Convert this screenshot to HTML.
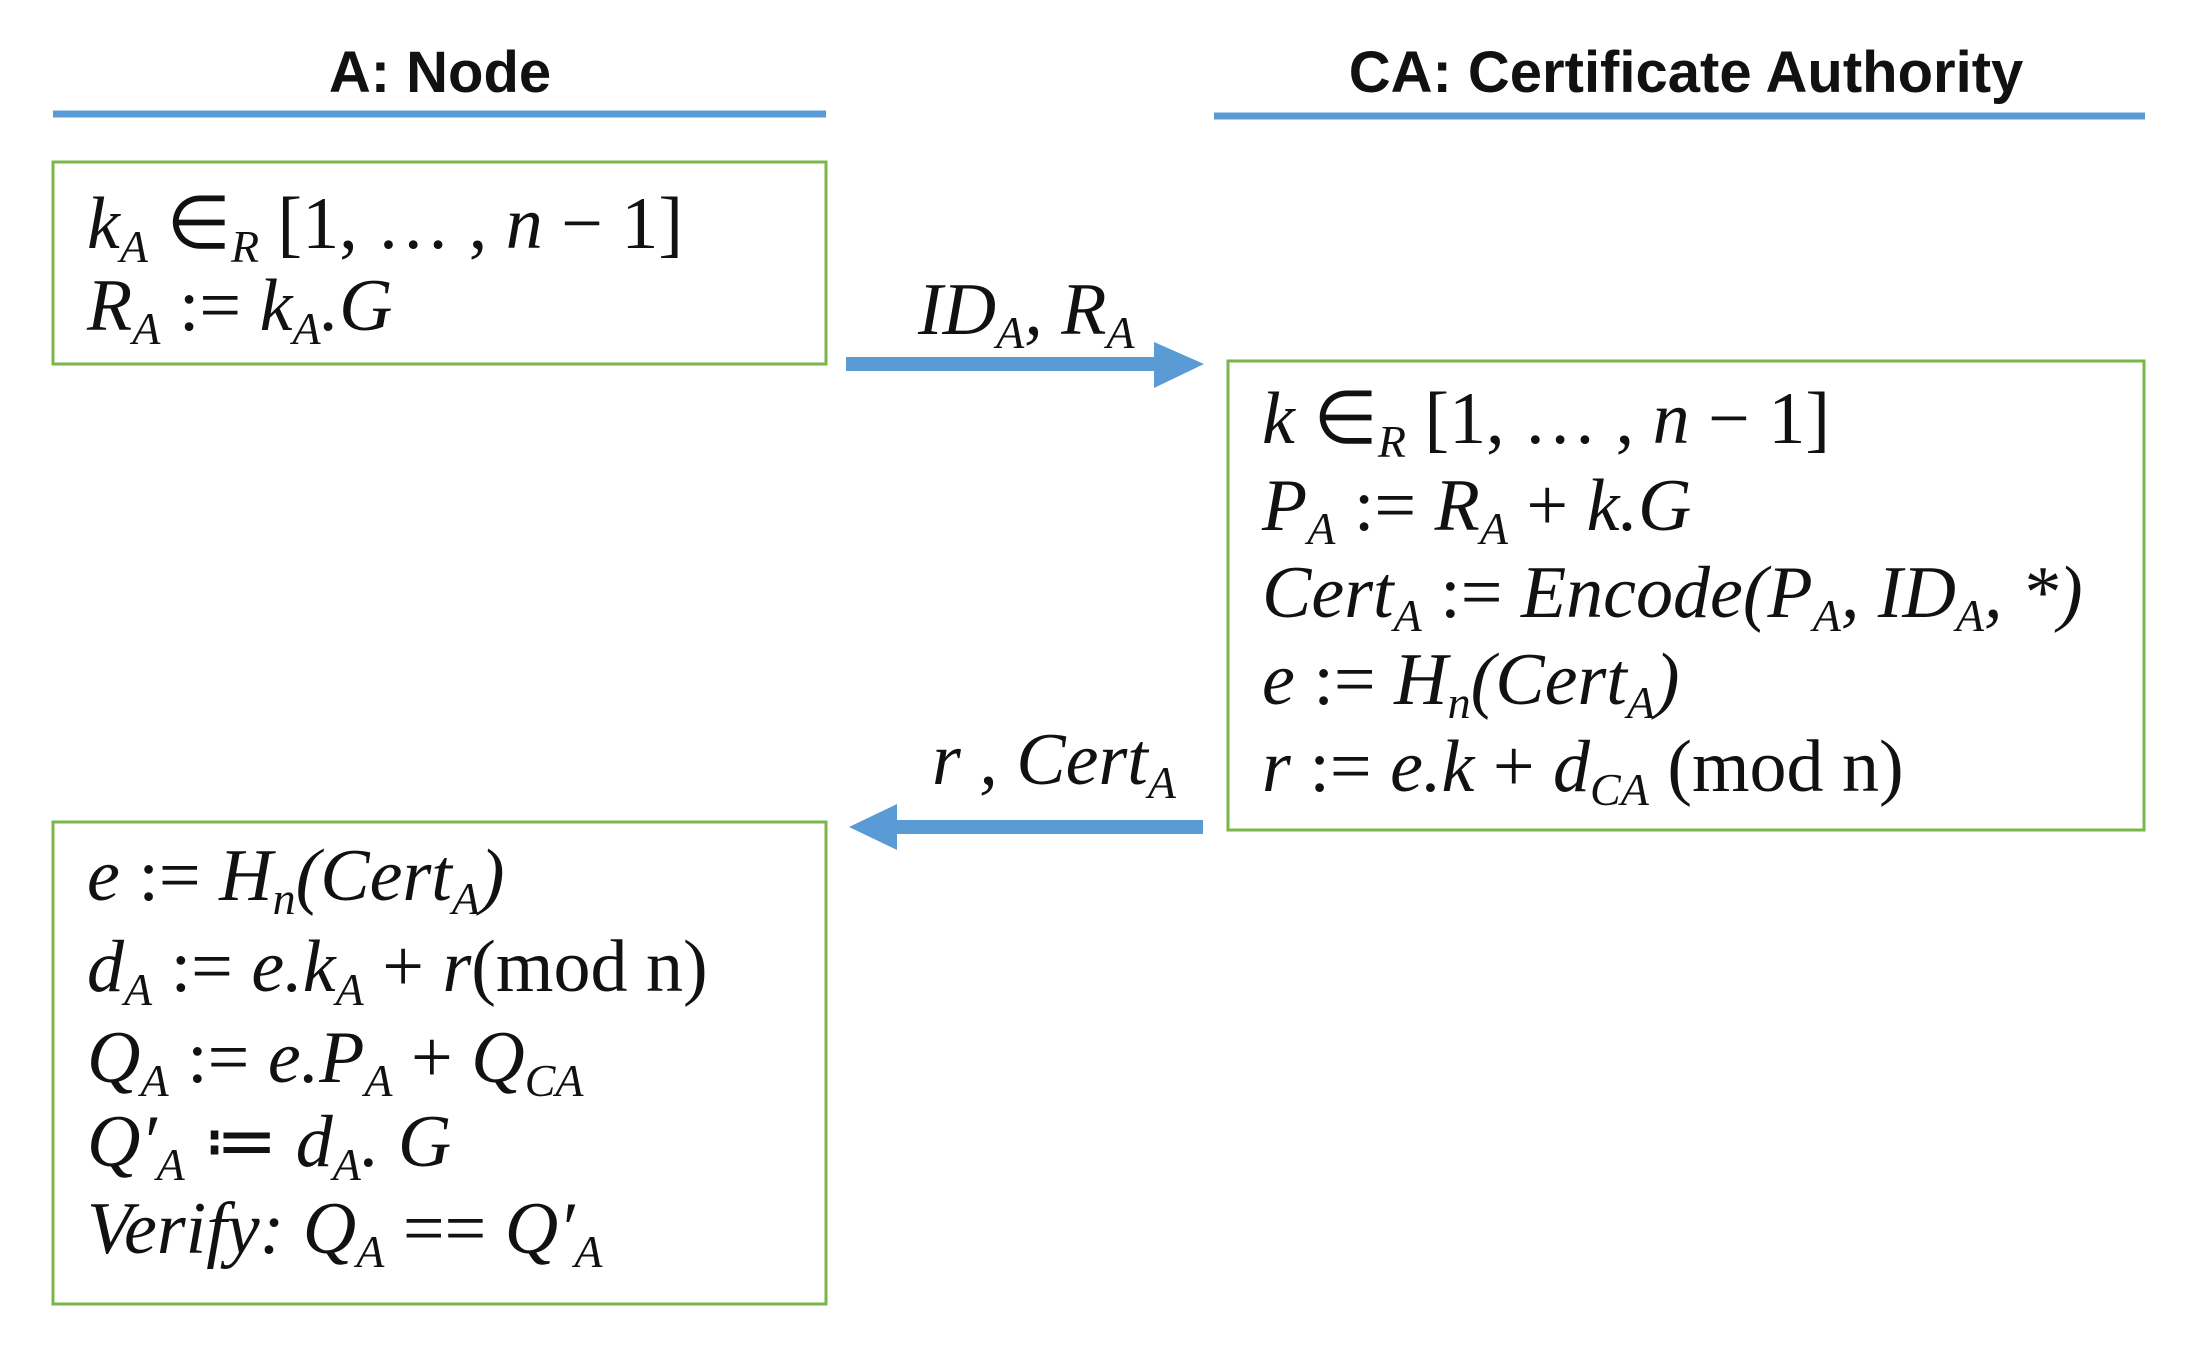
<!DOCTYPE html>
<html><head><meta charset="utf-8"><style>
html,body{margin:0;padding:0;background:#fff;}
svg{display:block;}
.t{font-family:"Liberation Serif",serif;font-style:italic;font-size:74px;fill:#111;}
.s{font-size:46px;}
.n{font-style:normal;}
.h{font-family:"Liberation Sans",sans-serif;font-weight:bold;font-size:58px;fill:#111;}
</style></head><body>
<svg width="2194" height="1350" viewBox="0 0 2194 1350" xmlns="http://www.w3.org/2000/svg">
<rect width="2194" height="1350" fill="#fff"/>
<text class="h" x="440" y="92" text-anchor="middle">A: Node</text>
<text class="h" x="1686" y="92" text-anchor="middle">CA: Certificate Authority</text>
<line x1="53" y1="114" x2="826" y2="114" stroke="#5b9bd5" stroke-width="7"/>
<line x1="1214" y1="116" x2="2145" y2="116" stroke="#5b9bd5" stroke-width="7"/>

<rect x="53" y="162" width="773" height="202" fill="none" stroke="#7ab648" stroke-width="3"/>
<rect x="1228" y="361" width="916" height="469" fill="none" stroke="#7ab648" stroke-width="3"/>
<rect x="53" y="822" width="773" height="482" fill="none" stroke="#7ab648" stroke-width="3"/>

<!-- arrows -->
<rect x="846" y="357" width="312" height="14" fill="#5b9bd5"/>
<polygon points="1154,342 1204,364 1154,388" fill="#5b9bd5"/>
<rect x="895" y="820" width="308" height="14" fill="#5b9bd5"/>
<polygon points="897,804 849,827 897,850" fill="#5b9bd5"/>

<text class="t" x="918" y="334">ID<tspan class="s" dy="14">A</tspan><tspan dy="-14">, R</tspan><tspan class="s" dy="14">A</tspan></text>
<text class="t" x="932" y="784">r , Cert<tspan class="s" dy="14">A</tspan></text>

<!-- box A1 -->
<text class="t" x="87" y="248">k<tspan class="s" dy="14">A</tspan><tspan class="n" dy="-14"> ∈</tspan><tspan class="s" dy="14">R</tspan><tspan class="n" dy="-14"> [1, … , </tspan>n<tspan class="n"> − 1]</tspan></text>
<text class="t" x="87" y="330">R<tspan class="s" dy="14">A</tspan><tspan class="n" dy="-14"> := </tspan>k<tspan class="s" dy="14">A</tspan><tspan dy="-14">.G</tspan></text>

<!-- CA box -->
<text class="t" x="1262" y="443">k<tspan class="n"> ∈</tspan><tspan class="s" dy="14">R</tspan><tspan class="n" dy="-14"> [1, … , </tspan>n<tspan class="n"> − 1]</tspan></text>
<text class="t" x="1262" y="530">P<tspan class="s" dy="14">A</tspan><tspan class="n" dy="-14"> := </tspan>R<tspan class="s" dy="14">A</tspan><tspan class="n" dy="-14"> + </tspan>k.G</text>
<text class="t" x="1262" y="617">Cert<tspan class="s" dy="14">A</tspan><tspan class="n" dy="-14"> := </tspan>Encode(P<tspan class="s" dy="14">A</tspan><tspan dy="-14">, ID</tspan><tspan class="s" dy="14">A</tspan><tspan dy="-14">, *)</tspan></text>
<text class="t" x="1262" y="704">e<tspan class="n"> := </tspan>H<tspan class="s" dy="14">n</tspan><tspan dy="-14">(Cert</tspan><tspan class="s" dy="14">A</tspan><tspan dy="-14">)</tspan></text>
<text class="t" x="1262" y="791">r<tspan class="n"> := </tspan>e.k<tspan class="n"> + </tspan>d<tspan class="s" dy="14">CA</tspan><tspan class="n" dy="-14"> (mod n)</tspan></text>

<!-- box A2 -->
<text class="t" x="87" y="900">e<tspan class="n"> := </tspan>H<tspan class="s" dy="14">n</tspan><tspan dy="-14">(Cert</tspan><tspan class="s" dy="14">A</tspan><tspan dy="-14">)</tspan></text>
<text class="t" x="87" y="991">d<tspan class="s" dy="14">A</tspan><tspan class="n" dy="-14"> := </tspan>e.k<tspan class="s" dy="14">A</tspan><tspan class="n" dy="-14"> + </tspan>r<tspan class="n">(mod n)</tspan></text>
<text class="t" x="87" y="1082">Q<tspan class="s" dy="14">A</tspan><tspan class="n" dy="-14"> := </tspan>e.P<tspan class="s" dy="14">A</tspan><tspan class="n" dy="-14"> + </tspan>Q<tspan class="s" dy="14">CA</tspan></text>
<text class="t" x="87" y="1166">Q′<tspan class="s" dy="14">A</tspan><tspan class="n" dy="-14"> ≔ </tspan>d<tspan class="s" dy="14">A</tspan><tspan dy="-14">. G</tspan></text>
<text class="t" x="87" y="1253">Verify: Q<tspan class="s" dy="14">A</tspan><tspan class="n" dy="-14"> == </tspan>Q′<tspan class="s" dy="14">A</tspan></text>
</svg>
</body></html>
